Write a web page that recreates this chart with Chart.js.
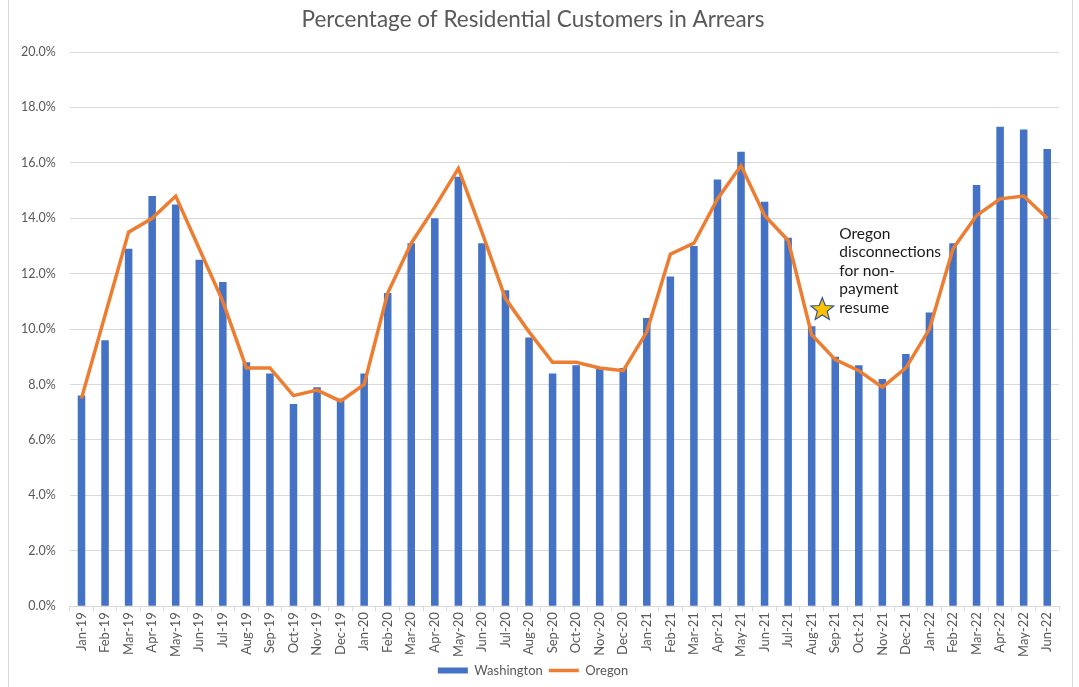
<!DOCTYPE html>
<html>
<head>
<meta charset="utf-8">
<script src="https://cdn.jsdelivr.net/npm/chart.js@4"></script>
<style>
  html, body { margin: 0; padding: 0; background: #fff; }
  #wrap { width: 1079px; height: 687px; }
</style>
</head>
<body>
<div id="wrap"><canvas id="ARREARS"></canvas></div>
<script>
// Datos
const MONTHS = [
  'Jan-19', 'Feb-19', 'Mar-19', 'Apr-19', 'May-19', 'Jun-19', 'Jul-19', 'Aug-19', 'Sep-19', 'Oct-19', 'Nov-19', 'Dec-19',
  'Jan-20', 'Feb-20', 'Mar-20', 'Apr-20', 'May-20', 'Jun-20', 'Jul-20', 'Aug-20', 'Sep-20', 'Oct-20', 'Nov-20', 'Dec-20',
  'Jan-21', 'Feb-21', 'Mar-21', 'Apr-21', 'May-21', 'Jun-21', 'Jul-21', 'Aug-21', 'Sep-21', 'Oct-21', 'Nov-21', 'Dec-21',
  'Jan-22', 'Feb-22', 'Mar-22', 'Apr-22', 'May-22', 'Jun-22'
];

const WASHINGTON = [
  7.6, 9.6, 12.9, 14.8, 14.5, 12.5, 11.7, 8.8, 8.4, 7.3, 7.9, 7.5,
  8.4, 11.3, 13.1, 14.0, 15.5, 13.1, 11.4, 9.7, 8.4, 8.7, 8.6, 8.6,
  10.4, 11.9, 13.0, 15.4, 16.4, 14.6, 13.3, 10.1, 9.0, 8.7, 8.2, 9.1,
  10.6, 13.1, 15.2, 17.3, 17.2, 16.5
];

const OREGON = [
  7.5, 10.5, 13.5, 14.0, 14.8, 12.9, 11.0, 8.6, 8.6, 7.6, 7.8, 7.4,
  8.0, 11.3, 13.1, 14.4, 15.8, 13.5, 11.1, 9.9, 8.8, 8.8, 8.6, 8.5,
  9.9, 12.7, 13.1, 14.7, 15.9, 14.1, 13.2, 9.8, 8.9, 8.5, 7.9, 8.6,
  10.0, 12.9, 14.1, 14.7, 14.8, 14.0
];

const Y_MIN = 0;
const Y_MAX = 20;
const Y_STEP = 2;

// Nota: posición en el eje (índice de categoría fraccional, valor %)
const NOTE_LINES = ['Oregon', 'disconnections', 'for non-', 'payment', 'resume'];
const NOTE_AT = { index: 31.45, value: 10.7 };

const GRAY = '#595959';
const GRID = '#D9D9D9';
const FONT = 'Lato, "Open Sans", sans-serif';

// Marco lateral + estrella y texto de la nota
const frameAndNote = {
  id: 'frameAndNote',
  beforeDraw(chart) {
    const c = chart.ctx;
    c.save();
    c.strokeStyle = GRID;
    c.lineWidth = 1;
    c.beginPath();
    c.moveTo(8.5, 0); c.lineTo(8.5, chart.height);
    c.moveTo(1072.5, 0); c.lineTo(1072.5, chart.height);
    c.stroke();
    c.restore();
  },
  afterDatasetsDraw(chart) {
    const c = chart.ctx;
    const x = chart.scales.x.getPixelForValue(NOTE_AT.index);
    const y = chart.scales.y.getPixelForValue(NOTE_AT.value);
    const R = 12, r = 5.2;
    c.save();
    c.beginPath();
    for (let i = 0; i < 10; i++) {
      const rad = i % 2 === 0 ? R : r;
      const a = -Math.PI / 2 + i * Math.PI / 5;
      const px = x + rad * Math.cos(a);
      const py = y + rad * Math.sin(a);
      if (i === 0) c.moveTo(px, py); else c.lineTo(px, py);
    }
    c.closePath();
    c.fillStyle = '#FFC000';
    c.fill();
    c.strokeStyle = '#2F5597';
    c.lineWidth = 1.2;
    c.stroke();

    c.fillStyle = '#1a1a1a';
    c.font = '15.5px ' + FONT;
    c.textAlign = 'left';
    c.textBaseline = 'middle';
    const lh = 18.5;
    NOTE_LINES.forEach((t, i) => {
      c.fillText(t, x + 17, y - 2 - (NOTE_LINES.length - 1 - i) * lh);
    });
    c.restore();
  }
};

const ctx = document.getElementById('ARREARS');

new Chart(ctx, {
  data: {
    labels: MONTHS,
    datasets: [
      {
        type: 'bar',
        label: 'Washington',
        data: WASHINGTON,
        backgroundColor: '#4472C4',
        borderWidth: 0,
        barPercentage: 0.32,
        categoryPercentage: 1,
        pointStyle: 'rect',
        order: 1
      },
      {
        type: 'line',
        label: 'Oregon',
        data: OREGON,
        borderColor: '#ED7D31',
        backgroundColor: '#ED7D31',
        borderWidth: 3.5,
        pointRadius: 0,
        tension: 0,
        pointStyle: 'line',
        order: 0
      }
    ]
  },
  options: {
    responsive: true,
    maintainAspectRatio: false,
    animation: false,
    layout: { padding: { left: 7, right: 20, top: 0, bottom: 0 } },
    plugins: {
      title: {
        display: true,
        text: 'Percentage of Residential Customers in Arrears',
        color: GRAY,
        font: { family: FONT, size: 22.5, weight: 'normal' },
        padding: { top: 6, bottom: 19 }
      },
      legend: {
        position: 'bottom',
        labels: {
          usePointStyle: true,
          pointStyleWidth: 30,
          boxHeight: 6,
          color: GRAY,
          font: { family: FONT, size: 13 },
          padding: 6,
          sort: (a, b) => a.datasetIndex - b.datasetIndex
        }
      },
      tooltip: { enabled: false }
    },
    scales: {
      x: {
        grid: {
          display: true,
          drawOnChartArea: false,
          drawTicks: true,
          tickLength: 5,
          color: GRID,
          offset: true
        },
        border: { color: GRID },
        ticks: {
          color: GRAY,
          font: { family: FONT, size: 13 },
          minRotation: 90,
          maxRotation: 90,
          autoSkip: false,
          padding: 1
        }
      },
      y: {
        min: Y_MIN,
        max: Y_MAX,
        grid: { color: GRID, drawTicks: false },
        border: { display: false },
        ticks: {
          stepSize: Y_STEP,
          color: GRAY,
          font: { family: FONT, size: 12.5 },
          padding: 14,
          callback: (v) => v.toFixed(1) + '%'
        }
      }
    }
  },
  plugins: [frameAndNote]
});
</script>
</body>
</html>
